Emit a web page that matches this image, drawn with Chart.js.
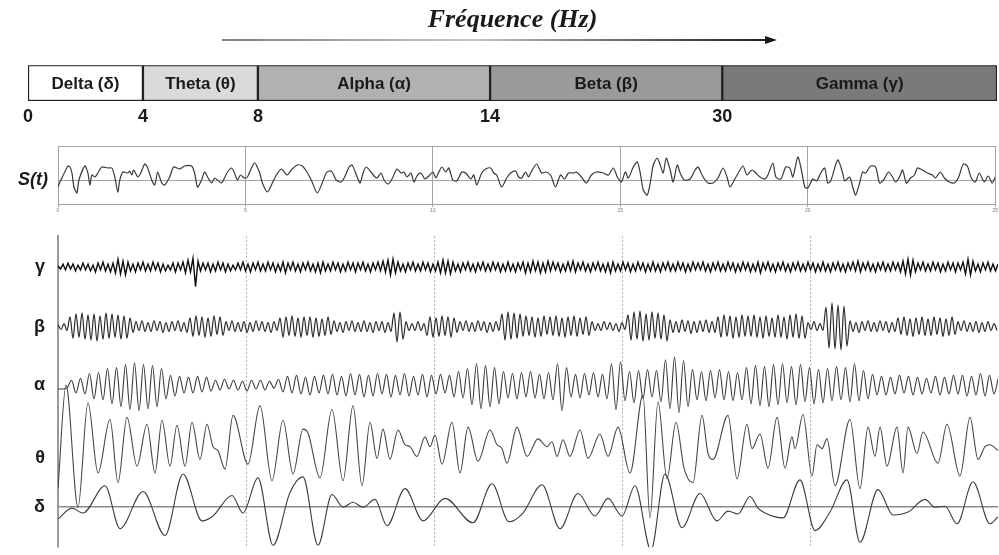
<!DOCTYPE html>
<html>
<head>
<meta charset="utf-8">
<script src="https://cdn.jsdelivr.net/npm/chart.js@4.4.0/dist/chart.umd.min.js"></script>
<style>
  body { margin: 0; background: #fff; }
  #wrap { position: relative; width: 999px; height: 555px; overflow: hidden; background: #fff; }
  canvas { position: absolute; left: 0; }
  #bandChart { top: 0px; }
  #signalChart { top: 134px; }
  #traceChart { top: 212px; }
</style>
</head>
<body>
<div id="wrap">
  <canvas id="bandChart" width="999" height="125"></canvas>
  <canvas id="signalChart" width="999" height="84"></canvas>
  <canvas id="traceChart" width="999" height="359"></canvas>
</div>
<script>
// ---- data ----
const bandNames = ["Delta (δ)", "Theta (θ)", "Alpha (α)", "Beta (β)", "Gamma (γ)"];
const bandEdgesHz = ["0", "4", "8", "14", "30"];
const timeTicks = ["0", "5", "10", "15", "20", "25"];
const traceNames = { gamma: "γ", beta: "β", alpha: "α", theta: "θ", delta: "δ" };

// S(t): [sample, amplitude] turning points
const signal = [
    [0,-7],[2,-2],[10,14],[12,13],[14,7],[16,-7],[19,-13],[21,0],[27,14],[30,7],[32,-5],[34,5],[37,3],[40,7],
    [44,13],[50,12],[54,12],[57,3],[60,-12],[62,0],[65,8],[70,7],[72,9],[74,5],[76,10],[80,3],[83,7],[87,16],
    [90,12],[94,0],[97,-5],[100,8],[104,-3],[107,-5],[112,3],[116,13],[122,11],[127,14],[134,14],[137,7],
    [140,-7],[144,0],[147,8],[150,3],[154,-3],[157,2],[160,0],[164,-3],[167,2],[170,8],[174,12],[177,7],
    [180,0],[183,5],[187,2],[190,3],[197,17],[202,8],[205,-3],[210,-12],[215,-3],[219,5],[224,11],[227,8],
    [230,5],[234,10],[240,15],[245,14],[249,9],[254,0],[260,-13],[265,-3],[269,7],[272,9],[275,8],[279,0],
    [284,-2],[287,2],[292,13],[295,15],[300,3],[303,-3],[306,7],[309,13],[314,8],[317,4],[320,2],[324,7],
    [327,0],[331,-4],[335,1],[340,11],[344,7],[347,8],[350,3],[354,7],[357,-2],[360,4],[364,7],[368,1],
    [372,4],[376,8],[379,2],[382,8],[385,13],[389,8],[392,12],[396,0],[400,-1],[405,8],[409,7],[414,1],
    [417,5],[420,-5],[425,7],[429,11],[434,12],[437,7],[440,5],[445,-7],[450,2],[454,7],[459,9],[462,3],
    [465,2],[469,8],[472,3],[474,7],[480,16],[485,7],[489,8],[494,5],[499,-7],[504,5],[508,1],[512,7],
    [517,7],[520,8],[525,3],[530,-3],[535,5],[540,8],[547,7],[552,5],[557,12],[561,3],[565,-2],[569,8],
    [572,2],[577,13],[581,18],[584,7],[587,-10],[591,-15],[594,-3],[597,15],[601,22],[604,15],[607,7],
    [610,22],[614,10],[617,-2],[621,15],[624,7],[628,0],[634,1],[639,10],[642,13],[647,3],[652,-3],
    [657,-3],[662,2],[667,12],[671,3],[674,-7],[680,3],[687,14],[691,5],[696,10],[700,7],[704,3],[709,1],
    [712,5],[717,17],[720,3],[725,1],[730,13],[734,12],[737,3],[742,23],[745,13],[749,-7],[752,-8],[757,1],
    [761,-1],[765,7],[769,12],[772,-3],[775,-1],[782,20],[787,7],[789,-1],[794,3],[797,-7],[800,-15],
    [804,-3],[807,8],[810,7],[815,14],[820,13],[824,-3],[828,0],[833,8],[837,3],[840,-2],[844,3],[847,10],
    [851,-3],[855,2],[859,5],[862,12],[867,10],[872,7],[877,5],[880,2],[885,8],[889,2],[894,-2],[899,-3],
    [903,2],[908,16],[912,14],[916,2],[920,-2],[924,7],[929,-2],[933,4],[937,-3],[940,3]
];

// gamma band, one value every 2.5 samples
const gamma = [
    1,-2,3,-3,4,-2,3,-4,2,-3,4,-3,
    3,-4,2,-5,4,-3,5,-4,3,-5,4,-6,
    8,-7,6,-8,5,-4,3,-5,4,-3,5,-4,
    3,-4,5,-3,4,-5,3,-4,2,-3,4,-5,
    4,-3,5,-6,7,-5,9,-20,6,-4,4,-3,
    4,-5,3,-4,5,-3,4,-5,3,-4,2,-3,
    4,-3,5,-4,3,-5,4,-3,5,-4,3,-4,
    5,-3,4,-5,3,-4,5,-6,4,-3,5,-4,
    3,-5,4,-3,5,-4,3,-5,4,-6,5,-4,
    3,-4,5,-3,4,-5,3,-4,5,-3,4,-5,
    4,-3,5,-4,3,-5,4,-3,5,-4,6,-5,
    7,-8,8,-6,5,-4,3,-5,4,-3,5,-4,
    3,-4,5,-3,4,-5,3,-4,5,-6,7,-6,
    6,-7,5,-4,3,-5,4,-3,5,-4,3,-5,
    4,-3,5,-4,3,-4,5,-3,4,-5,3,-4,
    5,-4,3,-5,4,-3,5,-6,4,-5,6,-4,
    5,-6,4,-5,6,-4,5,-3,4,-5,3,-4,
    5,-4,6,-5,4,-3,5,-4,3,-5,4,-3,
    5,-4,3,-5,4,-6,5,-4,3,-4,5,-3,
    4,-5,3,-4,5,-3,4,-5,3,-4,5,-4,
    3,-5,4,-3,5,-4,3,-4,5,-3,4,-5,
    3,-4,5,-3,4,-3,5,-4,3,-5,4,-3,
    5,-4,3,-4,5,-3,4,-5,3,-4,5,-3,
    4,-5,3,-4,5,-6,4,-3,5,-4,3,-5,
    4,-3,5,-4,3,-5,4,-3,5,-4,3,-4,
    5,-3,4,-5,3,-4,5,-4,3,-5,4,-3,
    5,-4,3,-5,4,-3,5,-4,6,-5,4,-3,
    5,-4,3,-5,4,-3,5,-4,3,-4,5,-3,
    4,-5,6,-7,8,-8,7,-5,4,-3,5,-4,
    3,-4,5,-3,4,-5,3,-4,5,-3,4,-5,
    4,-3,5,-7,8,-8,6,-4,3,-5,4,-3,
    5,-4,3,-4,3
];

// beta band, one value every 3 samples
const beta = [
    2,-3,3,-4,10,-12,13,-11,14,-13,
    12,-14,13,-15,11,-13,14,-12,13,-11,
    12,-13,11,-12,9,-6,5,-4,6,-5,
    4,-5,6,-4,5,-6,4,-5,5,-4,
    6,-5,4,-6,9,-10,11,-9,10,-11,
    9,-10,11,-8,10,-9,5,-4,6,-5,
    4,-5,5,-6,4,-5,6,-4,5,-5,
    4,-6,5,-4,9,-11,10,-9,11,-10,
    9,-11,10,-9,10,-11,9,-10,8,-9,
    10,-8,6,-5,4,-6,5,-4,6,-5,
    4,-5,6,-5,4,-6,5,-4,5,-6,
    4,-5,14,-16,15,-13,5,-4,3,-4,
    5,-4,3,-9,10,-11,9,-10,11,-9,
    10,-11,9,-6,5,-4,6,-5,4,-5,
    6,-4,5,-6,4,-5,5,-4,13,-14,
    15,-13,14,-12,13,-10,11,-9,10,-11,
    9,-10,11,-8,10,-9,11,-10,9,-11,
    10,-9,11,-10,9,-8,10,-9,5,-4,
    3,-4,5,-3,4,-4,3,-5,4,-3,
    12,-14,15,-13,16,-15,13,-14,15,-12,
    14,-13,12,-15,7,-6,5,-6,7,-5,
    6,-7,5,-6,6,-5,7,-6,5,-6,
    10,-11,12,-10,11,-12,10,-11,12,-10,
    11,-10,12,-11,10,-12,11,-10,9,-11,
    12,-11,10,-13,12,-11,13,-12,11,-12,
    4,-3,5,-4,3,-4,20,-22,24,-23,
    22,-24,21,-20,6,-5,4,-6,5,-4,
    6,-5,4,-5,6,-4,5,-6,4,-5,
    9,-8,10,-9,8,-10,9,-8,10,-9,
    8,-9,10,-8,9,-10,8,-9,10,-8,
    5,-4,6,-5,4,-5,5,-6,4,-5,
    5,-4,3,-4
];

// alpha band, one value every 4.5 samples
const alpha = [
    -4,-4,-3,5,-8,7,-9,12,-14,13,
    -15,17,-19,18,-22,21,-25,23,-26,21,
    -24,20,-22,17,-14,10,-11,9,-8,8,
    -8,9,-7,8,-6,5,-5,6,-4,5,
    -5,4,-6,5,-4,5,-5,4,-3,6,
    -7,9,-8,10,-9,8,-10,9,-8,10,
    -9,11,-10,9,-11,12,-10,11,-12,10,
    -11,12,-9,11,-12,10,-10,12,-11,9,
    -10,11,-12,10,-9,11,-8,10,-12,14,
    -13,17,-20,22,-24,20,-22,18,-19,14,
    -13,12,-14,13,-12,14,-13,11,-14,13,
    -15,22,-26,18,-12,11,-13,12,-10,13,
    -12,11,-14,22,-25,24,-16,14,-18,15,
    -14,16,-12,15,-17,26,-24,29,-28,25,
    -22,16,-15,14,-16,15,-13,16,-15,14,
    -16,13,-15,18,-19,20,-21,19,-22,21,
    -20,22,-18,19,-20,21,-17,18,-19,16,
    -18,17,-16,19,-15,18,-17,22,-16,15,
    -14,11,-10,9,-10,8,-9,10,-8,9,
    -10,8,-9,7,-8,9,-10,8,-9,10,
    -9,10,-11,9,-10,12,-11,10,-9,8
];

// theta band: [sample, amplitude] turning points
const theta = [
    [0,-31],[8,75],[20,-50],[30,57],[40,-15],[52,40],[60,-25],[69,42],[79,-8],[89,35],[97,-15],
    [104,39],[112,-8],[119,34],[127,-8],[134,37],[142,-1],[149,35],[155,12],[160,8],[167,-11],
    [175,44],[190,-6],[202,54],[214,-23],[225,39],[235,-16],[245,30],[250,26],[262,-20],[274,50],
    [285,-23],[295,54],[304,-28],[312,37],[319,0],[325,30],[332,-1],[340,29],[347,14],[352,12],
    [359,2],[367,22],[372,12],[377,24],[384,-6],[394,37],[402,-15],[410,32],[420,-3],[432,29],
    [439,14],[444,10],[449,-5],[459,32],[469,2],[480,20],[489,12],[494,17],[499,2],[505,19],
    [512,2],[522,29],[530,0],[542,25],[550,2],[560,32],[572,-15],[585,65],[592,-61],[600,58],
    [609,-21],[618,37],[626,-10],[635,-25],[644,44],[650,5],[655,-1],[670,44],[679,-21],[689,35],
    [694,10],[702,25],[710,-10],[719,42],[727,-10],[734,22],[737,10],[745,45],[754,-18],[759,14],
    [764,10],[769,20],[777,-28],[792,40],[802,-31],[810,32],[817,2],[822,32],[829,-8],[839,32],
    [845,-15],[850,32],[859,5],[865,27],[880,-5],[889,35],[902,-18],[912,42],[920,-1],[927,12],
    [932,14],[940,8]
];

// delta band: [sample, amplitude] turning points
const delta = [
    [0,-12],[14,-1],[25,-6],[47,22],[62,-22],[85,16],[107,-29],[125,34],[144,-14],[155,-9],
    [174,12],[185,-6],[200,30],[215,-39],[232,15],[245,31],[260,-39],[274,13],[285,0],[295,5],
    [305,0],[317,8],[329,-19],[347,19],[365,-14],[387,9],[415,-16],[434,24],[451,-15],[465,-6],
    [484,23],[502,-22],[520,14],[537,-9],[550,9],[564,-9],[577,22],[593,-44],[607,34],[624,-21],
    [642,14],[659,-14],[670,-4],[680,-7],[692,11],[700,-1],[707,-6],[725,-11],[742,28],[757,-24],
    [772,-5],[789,28],[802,-36],[820,18],[835,-8],[850,-5],[867,8],[877,0],[887,1],[899,-17],
    [915,26],[932,-17],[940,-10]
];

// ---- layout / style ----
const BOX_UNITS = [1, 1, 2.02, 2.02, 2.39];
const BOX_FILL = ["#ffffff", "#dadada", "#b1b1b1", "#9a9a9a", "#7a7a7a"];
const SPAN = 940;            // samples across the plot
const SAMPLES_PER_SEC = 37.6;
const BASE = { delta: 45, theta: 95, alpha: 170, beta: 230, gamma: 291 };
const INK = "#1a1a1a";
const SANS = '"Liberation Sans", Arial, sans-serif';

Chart.defaults.animation = false;
Chart.defaults.plugins.legend.display = false;
Chart.defaults.plugins.tooltip.enabled = false;

// ---- frequency band bar ----
const edgePos = [0];
BOX_UNITS.slice(0, -1).forEach((u, i) => edgePos.push(edgePos[i] + u));
const totalUnits = BOX_UNITS.reduce((a, b) => a + b, 0);

const boxLabels = {
    id: "boxLabels",
    afterDatasetsDraw(chart) {
        const ctx = chart.ctx;
        ctx.save();
        ctx.font = "bold 17px " + SANS;
        ctx.fillStyle = INK;
        ctx.textAlign = "center";
        ctx.textBaseline = "middle";
        chart.data.datasets.forEach((ds, i) => {
            const bar = chart.getDatasetMeta(i).data[0];
            ctx.fillText(ds.label, (bar.x + bar.base) / 2, bar.y + 1);
        });
        ctx.restore();
    }
};

const freqArrow = {
    id: "freqArrow",
    afterDraw(chart) {
        const ctx = chart.ctx;
        ctx.save();
        const g = ctx.createLinearGradient(222, 0, 776, 0);
        g.addColorStop(0, "#808080");
        g.addColorStop(0.45, "#c8c8c8");
        g.addColorStop(0.62, "#8a8a8a");
        g.addColorStop(1, "#1a1a1a");
        ctx.strokeStyle = g;
        ctx.lineWidth = 1.8;
        ctx.beginPath();
        ctx.moveTo(222, 40);
        ctx.lineTo(767, 40);
        ctx.stroke();
        ctx.fillStyle = "#1a1a1a";
        ctx.beginPath();
        ctx.moveTo(765, 36);
        ctx.lineTo(777, 40);
        ctx.lineTo(765, 44);
        ctx.closePath();
        ctx.fill();
        ctx.restore();
    }
};

new Chart(document.getElementById("bandChart"), {
    type: "bar",
    data: {
        labels: [""],
        datasets: bandNames.map((name, i) => ({
            label: name,
            data: [BOX_UNITS[i]],
            backgroundColor: BOX_FILL[i],
            borderColor: "#222",
            borderWidth: 1.5,
            borderSkipped: false,
            barPercentage: 1,
            categoryPercentage: 1
        }))
    },
    options: {
        indexAxis: "y",
        responsive: false,
        layout: { padding: { left: 28, right: 2 } },
        plugins: {
            title: {
                display: true,
                text: "Fréquence (Hz)",
                color: INK,
                font: { family: '"Liberation Serif", "Times New Roman", serif', size: 26, weight: "bold", style: "italic" },
                padding: { top: 5, bottom: 29 }
            }
        },
        scales: {
            x: {
                type: "linear",
                stacked: true,
                min: 0,
                max: totalUnits,
                afterBuildTicks: (axis) => { axis.ticks = edgePos.map(v => ({ value: v })); },
                afterFit: (s) => { s.height = 24; },
                ticks: {
                    autoSkip: false,
                    maxRotation: 0,
                    padding: 5,
                    color: INK,
                    font: { family: SANS, size: 18, weight: "bold" },
                    callback: (v, i) => bandEdgesHz[i]
                },
                grid: { display: false, drawTicks: false },
                border: { display: false }
            },
            y: { stacked: true, display: false }
        }
    },
    plugins: [boxLabels, freqArrow]
});

// ---- S(t) ----
new Chart(document.getElementById("signalChart"), {
    type: "line",
    data: {
        datasets: [{
            data: signal.map(([x, v]) => ({ x, y: v })),
            borderColor: "#3a3a3a",
            borderWidth: 1.2,
            pointRadius: 0,
            tension: 0.25
        }]
    },
    options: {
        responsive: false,
        layout: { padding: { top: 12, right: 0 } },
        scales: {
            x: {
                type: "linear",
                min: 0,
                max: SPAN,
                afterFit: (s) => { s.height = 14; },
                ticks: {
                    stepSize: SAMPLES_PER_SEC * 5,
                    autoSkip: false,
                    maxRotation: 0,
                    padding: 1,
                    color: "#777",
                    font: { family: SANS, size: 5 },
                    callback: (v, i) => timeTicks[i]
                },
                grid: { color: "#a3a3a3", lineWidth: 1, tickLength: 3 },
                border: { color: "#a3a3a3" }
            },
            y: {
                min: -24,
                max: 34,
                afterBuildTicks: (axis) => { axis.ticks = [{ value: -24 }, { value: 0 }, { value: 34 }]; },
                afterFit: (s) => { s.width = 58; },
                ticks: {
                    padding: 10,
                    color: INK,
                    font: (c) => (c.tick && c.tick.value === 0)
                        ? { family: SANS, size: 18, weight: "bold", style: "italic" }
                        : { family: SANS, size: 1 },
                    callback: (v) => (v === 0 ? "S(t)" : "")
                },
                grid: { color: "#a3a3a3", lineWidth: 1, drawTicks: false },
                border: { color: "#a3a3a3" }
            }
        }
    }
});

// ---- band traces ----
function stepped(values, step, base) {
    return values.map((v, i) => ({ x: i * step, y: base + v }));
}
function paired(pairs, base) {
    return pairs.map(([x, v]) => ({ x, y: base + v }));
}
function trace(points, color, width, smooth) {
    return {
        data: points,
        borderColor: color,
        borderWidth: width,
        pointRadius: 0,
        tension: 0,
        cubicInterpolationMode: smooth ? "monotone" : "default"
    };
}

const tickOrder = ["delta", "theta", "alpha", "beta", "gamma"];

new Chart(document.getElementById("traceChart"), {
    type: "line",
    data: {
        datasets: [
            trace(paired(delta, BASE.delta), "#3c3c3c", 1.1, true),
            trace(paired(theta, BASE.theta), "#454545", 1.1, true),
            trace(stepped(alpha, 4.5, BASE.alpha), "#3a3a3a", 1.1, true),
            trace(stepped(beta, 3, BASE.beta), "#2a2a2a", 1.2, true),
            trace(stepped(gamma, 2.5, BASE.gamma), "#0d0d0d", 1.4, false)
        ]
    },
    options: {
        responsive: false,
        layout: { padding: { top: 20, bottom: 20, right: 1 } },
        scales: {
            x: {
                type: "linear",
                min: 0,
                max: SPAN,
                afterFit: (s) => { s.height = 0; },
                ticks: { display: false, stepSize: SAMPLES_PER_SEC * 5 },
                grid: {
                    drawTicks: false,
                    lineWidth: 1,
                    color: (c) => (c.tick && (c.tick.value === 0 || c.tick.value === SPAN)) ? "rgba(0,0,0,0)" : "#b0b0b0"
                },
                border: { display: false, dash: [2, 2] }
            },
            y: {
                min: 4,
                max: 323,
                afterBuildTicks: (axis) => { axis.ticks = tickOrder.map(k => ({ value: BASE[k] })); },
                afterFit: (s) => { s.width = 58; },
                ticks: {
                    padding: 13,
                    color: INK,
                    font: { family: SANS, size: 18, weight: "bold" },
                    callback: (v, i) => traceNames[tickOrder[i]]
                },
                grid: {
                    drawTicks: false,
                    lineWidth: 1.5,
                    color: (c) => (c.tick && c.tick.value === BASE.delta) ? "#8a8a8a" : "rgba(0,0,0,0)"
                },
                border: { display: true, color: "#9a9a9a", width: 2 }
            }
        }
    }
});
</script>
</body>
</html>
